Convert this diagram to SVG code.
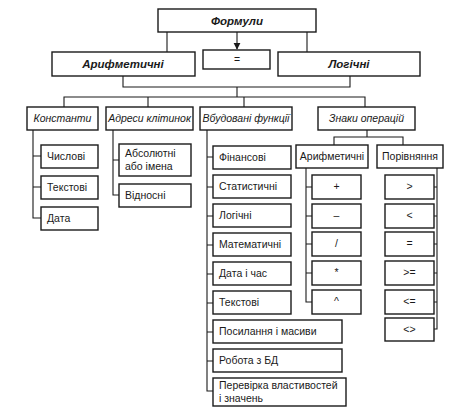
<svg xmlns="http://www.w3.org/2000/svg" width="452" height="420" viewBox="0 0 452 420">
<defs>
<style>
g rect{fill:#fff;stroke:#1a1a1a;stroke-width:1.4}
#connectors path{fill:none;stroke:#1a1a1a;stroke-width:1.1}
text{font-family:"Liberation Sans",Arial,sans-serif;font-size:10.5px;fill:#1a1a1a}
.t1{font-weight:bold;font-style:italic;font-size:11.5px}
.t2{font-style:italic}
.c{text-anchor:middle}
</style>
<marker id="arr" viewBox="0 0 10 10" refX="9" refY="5" markerWidth="7" markerHeight="8" orient="auto" markerUnits="userSpaceOnUse"><path d="M0,0 L10,5 L0,10 z" fill="#1a1a1a"/></marker>
</defs>
<rect width="452" height="420" style="fill:#fff;stroke:none"/>
<g id="connectors">
<path d="M167,32 V52 M307,32 V52"/>
<path d="M237,32 V49" marker-end="url(#arr)"/>
<path d="M123,76 V87 H350 V76 M237,87 V97 M64,107 V97 H365 V107 M148,97 V107 M244,97 V107"/>
<path d="M33,130 V218 H41 M33,156 H41 M33,187 H41"/>
<path d="M113,130 V195 H119 M113,160 H119"/>
<path d="M207,130 V391 H213 M207,157 H213 M207,187 H213 M207,216 H213 M207,245 H213 M207,274 H213 M207,303 H213 M207,332 H213 M207,361 H213"/>
<path d="M367,130 V137 M334,145 V137 H403 V145"/>
<path d="M306,168 V302 H312 M306,187 H312 M306,216 H312 M306,244 H312 M306,273 H312"/>
<path d="M437,168 V329 H434 M434,187 H437 M434,216 H437 M434,244 H437 M434,273 H437 M434,302 H437"/>
</g>
<g id="formuly"><rect x="158" y="9" width="158" height="23"/><text class="t1 c" x="237" y="25">Формули</text></g>
<g id="aryfm"><rect x="52" y="52" width="143" height="24"/><text class="t1 c" x="123" y="68">Арифметичні</text></g>
<g id="eq"><rect x="203" y="50" width="67" height="19"/><text class="c" x="237" y="63">=</text></g>
<g id="logichni"><rect x="278" y="52" width="142" height="24"/><text class="t1 c" x="349" y="68">Логічні</text></g>
<g id="konstanty"><rect x="27" y="107" width="71" height="23"/><text class="t2 c" x="62.5" y="122">Константи</text></g>
<g id="adresy"><rect x="106" y="107" width="87" height="23"/><text class="t2 c" x="149.5" y="122">Адреси клітинок</text></g>
<g id="vbudovani"><rect x="200" y="107" width="92" height="23"/><text class="t2 c" x="246" y="122">Вбудовані функції</text></g>
<g id="znaky"><rect x="318" y="107" width="97" height="23"/><text class="t2 c" x="366.5" y="122">Знаки операцій</text></g>
<g id="chyslovi"><rect x="41" y="145" width="57" height="23"/><text x="47" y="160">Числові</text></g>
<g id="tekstovi1"><rect x="41" y="176" width="57" height="23"/><text x="47" y="191">Текстові</text></g>
<g id="data"><rect x="41" y="207" width="57" height="23"/><text x="47" y="222">Дата</text></g>
<g id="absolyutni"><rect x="119" y="144" width="72" height="32"/><text x="125" y="157">Абсолютні</text><text x="125" y="170">або імена</text></g>
<g id="vidnosni"><rect x="119" y="184" width="72" height="23"/><text x="125" y="199">Відносні</text></g>
<g id="finansovi"><rect x="213" y="146" width="78" height="23"/><text x="219" y="161">Фінансові</text></g>
<g id="statystychni"><rect x="213" y="175" width="78" height="23"/><text x="219" y="190">Статистичні</text></g>
<g id="logichni2"><rect x="213" y="204" width="78" height="23"/><text x="219" y="219">Логічні</text></g>
<g id="matematychni"><rect x="213" y="233" width="78" height="23"/><text x="219" y="248">Математичні</text></g>
<g id="datachas"><rect x="213" y="262" width="78" height="23"/><text x="219" y="277">Дата і час</text></g>
<g id="tekstovi2"><rect x="213" y="291" width="78" height="23"/><text x="219" y="306">Текстові</text></g>
<g id="posylannya"><rect x="213" y="320" width="129" height="23"/><text x="219" y="335">Посилання і масиви</text></g>
<g id="robota"><rect x="213" y="349" width="129" height="23"/><text x="219" y="364">Робота з БД</text></g>
<g id="perevirka"><rect x="213" y="378" width="133" height="28"/><text x="219" y="389">Перевірка властивостей</text><text x="219" y="402">і значень</text></g>
<g id="aryfm2"><rect x="296" y="145" width="72" height="23"/><text class="c" x="332" y="160">Арифметичні</text></g>
<g id="porivnyannya"><rect x="377" y="145" width="66" height="23"/><text class="c" x="410" y="160">Порівняння</text></g>
<g id="plus"><rect x="312" y="175" width="49" height="24"/><text class="c" x="336.5" y="190">+</text></g>
<g id="minus"><rect x="312" y="204" width="49" height="24"/><text class="c" x="336.5" y="219">–</text></g>
<g id="div"><rect x="312" y="232" width="49" height="24"/><text class="c" x="336.5" y="247">/</text></g>
<g id="mul"><rect x="312" y="261" width="49" height="24"/><text class="c" x="336.5" y="276">*</text></g>
<g id="pow"><rect x="312" y="290" width="49" height="24"/><text class="c" x="336.5" y="305">^</text></g>
<g id="gt"><rect x="385" y="175" width="49" height="24"/><text class="c" x="409.5" y="190">&gt;</text></g>
<g id="lt"><rect x="385" y="204" width="49" height="24"/><text class="c" x="409.5" y="219">&lt;</text></g>
<g id="eq2"><rect x="385" y="232" width="49" height="24"/><text class="c" x="409.5" y="247">=</text></g>
<g id="ge"><rect x="385" y="261" width="49" height="24"/><text class="c" x="409.5" y="276">&gt;=</text></g>
<g id="le"><rect x="385" y="290" width="49" height="24"/><text class="c" x="409.5" y="305">&lt;=</text></g>
<g id="ne"><rect x="385" y="318" width="49" height="23"/><text class="c" x="409.5" y="333">&lt;&gt;</text></g>
</svg>
